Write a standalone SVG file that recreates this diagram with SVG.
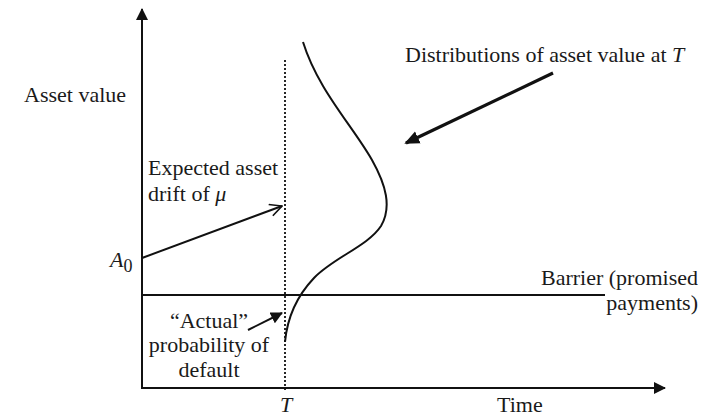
<svg xmlns="http://www.w3.org/2000/svg" width="715" height="416" viewBox="0 0 715 416">
<defs>
<style>
text{font-family:"Liberation Serif","Times New Roman",serif;font-size:22px;fill:#1a1a1a}
.it{font-style:italic}
.ln{stroke:#111;stroke-width:2;fill:none}
</style>
<marker id="fill" viewBox="0 0 12 12" refX="11" refY="6" markerWidth="12" markerHeight="12" markerUnits="userSpaceOnUse" orient="auto">
<path d="M0,0 L12,6 L0,12 z" fill="#111"/>
</marker>
<marker id="open" viewBox="0 0 14 14" refX="13" refY="7" markerWidth="14" markerHeight="14" markerUnits="userSpaceOnUse" orient="auto">
<path d="M1,1 L13,7 L1,13" fill="none" stroke="#111" stroke-width="1.6"/>
</marker>
<marker id="big" viewBox="0 0 8 8" refX="7" refY="4" markerWidth="15" markerHeight="15" markerUnits="userSpaceOnUse" orient="auto">
<path d="M0,0.5 L8,4 L0,7.5 z" fill="#111"/>
</marker>
</defs>
<rect width="715" height="416" fill="#fff"/>
<g id="axes">
<line class="ln" x1="142" y1="389" x2="142" y2="9" marker-end="url(#fill)"/>
<line class="ln" x1="141" y1="388" x2="665" y2="388" marker-end="url(#fill)"/>
</g>
<g id="maturity-line">
<line x1="285" y1="60" x2="285" y2="392" stroke="#111" stroke-width="1.8" stroke-dasharray="2,2"/>
<text class="it" x="280" y="412">T</text>
</g>
<g id="barrier">
<line class="ln" x1="142" y1="295" x2="605" y2="295"/>
<text x="698" y="285" text-anchor="end">Barrier (promised</text>
<text x="698" y="310" text-anchor="end">payments)</text>
</g>
<g id="distribution">
<path class="ln" d="M303,42 C318,90 352,125 372,160 C386,185 392,207 381,226 C368,246 333,258 314,278 C296,297 287,320 285,342"/>
</g>
<g id="labels">
<text x="24" y="102">Asset value</text>
<text x="405" y="62">Distributions of asset value at <tspan class="it">T</tspan></text>
<text x="148" y="175">Expected asset</text>
<text x="148" y="201">drift of <tspan class="it">μ</tspan></text>
<text x="110" y="267"><tspan class="it">A</tspan><tspan dy="5" font-size="18">0</tspan></text>
<text x="209" y="328" text-anchor="middle">“Actual”</text>
<text x="209" y="352" text-anchor="middle">probability of</text>
<text x="209" y="377" text-anchor="middle">default</text>
<text x="497" y="412">Time</text>
</g>
<g id="connectors">
<line class="ln" x1="142" y1="258" x2="282" y2="206" marker-end="url(#open)"/>
<line class="ln" x1="248" y1="330" x2="282" y2="313" marker-end="url(#fill)"/>
<line x1="553" y1="73" x2="406" y2="143" stroke="#111" stroke-width="3.2" marker-end="url(#big)"/>
</g>
</svg>
